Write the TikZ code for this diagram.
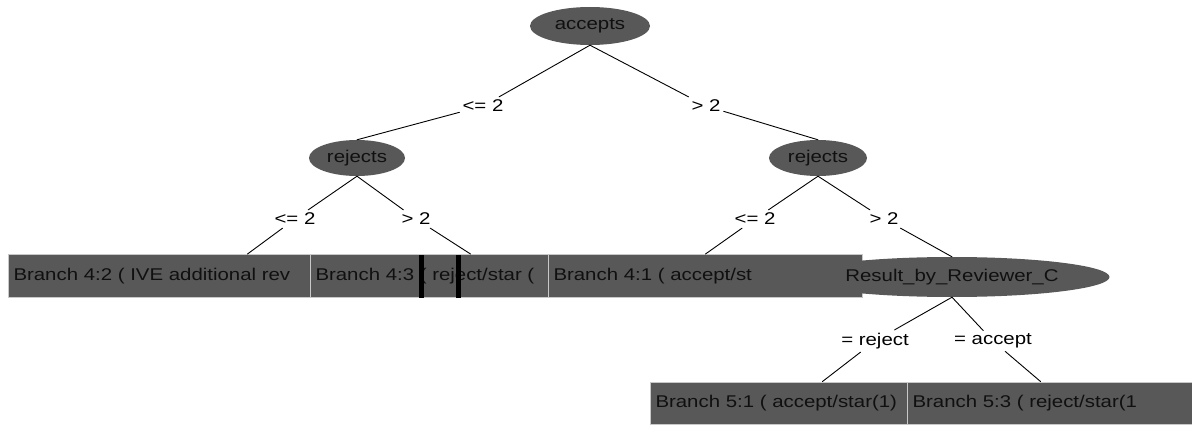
\documentclass[tikz,border=0pt]{standalone}
\usepackage{fontspec}
\newfontfamily\dtfont{Liberation Sans}[FakeStretch=1.2]
\usepackage{tikz}
\usetikzlibrary{shapes.geometric}
\definecolor{dtFill}{HTML}{585858}
\definecolor{dtInk}{HTML}{101010}
\definecolor{dtRim}{HTML}{C8C8C8}
\tikzset{
  dt diagram/.style={font=\dtfont\fontsize{17}{20}\selectfont, x=1pt, y=-1pt,
    line cap=round, line join=round},
  dt split/.style={ellipse, fill=dtFill, text=dtInk, inner sep=0pt},
  dt leaf/.style={rectangle, fill=dtFill, draw=dtRim, line width=1pt,
    text=dtInk, anchor=west, minimum height=43pt, inner sep=0pt,
    align=left, inner xsep=5pt},
  dt label/.style={fill=white, text=black, inner sep=3pt},
  dt edge/.style={draw=black, line width=0.9pt}
}
\begin{document}
\begin{tikzpicture}[dt diagram]
\useasboundingbox[fill=white] (0,0) rectangle (1192,425);
% splits
\node[dt split, minimum width=120pt, minimum height=38pt] (root) at (590,26) {accepts};
\node[dt split, minimum width=96pt, minimum height=36pt] (rjL) at (357,158) {rejects};
\node[dt split, minimum width=98pt, minimum height=36pt] (rjR) at (818,158) {rejects};
% leaves, drawn left to right so each covers the one before
\node[dt leaf, minimum width=478pt, text width=468pt] (b42) at (8,276) {Branch 4:2 ( IVE additional rev};
\node[dt leaf, minimum width=320pt, text width=310pt] (b43) at (310,276) {Branch 4:3 ( reject/star (};
\fill[black] (419,255) rectangle (424,298);
\fill[black] (456,255) rectangle (461,298);
\node[dt leaf, minimum width=314pt, text width=304pt] (b41) at (548,276) {Branch 4:1 ( accept/st};
\node[dt split, minimum width=315pt, minimum height=40pt] (res) at (952,277) {Result\_by\_Reviewer\_C};
\node[dt leaf, minimum width=344pt, text width=334pt, minimum height=42pt] (b51) at (650,403) {Branch 5:1 ( accept/star(1)};
\node[dt leaf, minimum width=300pt, text width=290pt, minimum height=42pt] (b53) at (907,403) {Branch 5:3 ( reject/star(1};
% branch labels
\node[dt label] (e1) at (483,106) {<= 2};
\node[dt label] (e2) at (706,106) {> 2};
\node[dt label] (e3) at (295,219) {<= 2};
\node[dt label] (e4) at (416,219) {> 2};
\node[dt label] (e5) at (755,219) {<= 2};
\node[dt label] (e6) at (884,219) {> 2};
\node[dt label] (e7) at (875,341) {= reject};
\node[dt label] (e8) at (993,341) {= accept};
% connectors
\draw[dt edge] (root.south) -- (e1) (e1) -- (rjL.north);
\draw[dt edge] (root.south) -- (e2) (e2) -- (rjR.north);
\draw[dt edge] (rjL.south) -- (e3) (e3) -- (b42.north);
\draw[dt edge] (rjL.south) -- (e4) (e4) -- (b43.north);
\draw[dt edge] (rjR.south) -- (e5) (e5) -- (b41.north);
\draw[dt edge] (rjR.south) -- (e6) (e6) -- (res.north);
\draw[dt edge] (res.south) -- (e7) (e7) -- (b51.north);
\draw[dt edge] (res.south) -- (e8) (e8) -- ([xshift=-17pt]b53.north);
\end{tikzpicture}
\end{document}
